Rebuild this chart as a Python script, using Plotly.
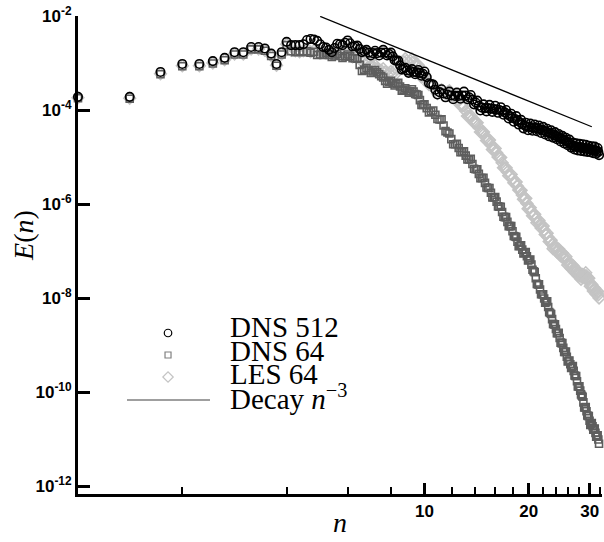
import numpy as np
import plotly.graph_objects as go

# shell wavenumbers n (primary sampling, shared by all series)
n_vals = [1.0, 1.41, 1.73, 2.0, 2.24, 2.45, 2.65, 2.83, 3.0, 3.16, 3.32, 3.46, 3.61, 3.74, 3.87, 4.0,
          4.12, 4.24, 4.36, 4.47, 4.58, 4.69, 4.8, 4.9, 5.0,
          5.2, 5.4, 5.6, 5.8, 6.0, 6.2, 6.4, 6.6, 6.8, 7.0, 7.2, 7.4, 7.6, 7.8, 8.0, 8.2, 8.4, 8.6, 8.8,
          9.0, 9.2, 9.4, 9.6, 9.8, 10.0,
          10.3, 10.6, 10.9, 11.2, 11.5, 11.8, 12.1, 12.4, 12.7, 13.0, 13.3, 13.6, 13.9, 14.2, 14.5, 14.8,
          15.1, 15.4, 15.7, 16.0, 16.3, 16.6, 16.9, 17.2, 17.5, 17.8, 18.1, 18.4, 18.7, 19.0, 19.3, 19.6,
          19.9, 20.2, 20.5, 20.8, 21.1, 21.4, 21.7, 22.0, 22.3, 22.6, 22.9, 23.2, 23.5, 23.8, 24.1, 24.4,
          24.7, 25.0, 25.3, 25.6, 25.9, 26.2, 26.5, 26.8, 27.1, 27.4, 27.7, 28.0, 28.3, 28.6, 28.9, 29.2,
          29.5, 29.8, 30.1, 30.4, 30.7, 31.0, 31.3, 31.6, 31.9]

# in-between shells (dense part of the spectrum)
n_mid = [5.1, 5.3, 5.5, 5.7, 5.9, 6.1, 6.3, 6.5, 6.7, 6.9, 7.1, 7.3, 7.5, 7.7, 7.9, 8.1, 8.3, 8.5, 8.7,
         8.9, 9.1, 9.3, 9.5, 9.7, 9.9,
         10.15, 10.45, 10.75, 11.05, 11.35, 11.65, 11.95, 12.25, 12.55, 12.85, 13.15, 13.45, 13.75, 14.05,
         14.35, 14.65, 14.95, 15.25, 15.55, 15.85, 16.15, 16.45, 16.75, 17.05, 17.35, 17.65, 17.95, 18.25,
         18.55, 18.85, 19.15, 19.45, 19.75, 20.05, 20.35, 20.65, 20.95, 21.25, 21.55, 21.85, 22.15, 22.45,
         22.75, 23.05, 23.35, 23.65, 23.95, 24.25, 24.55, 24.85, 25.15, 25.45, 25.75, 26.05, 26.35, 26.65,
         26.95, 27.25, 27.55, 27.85, 28.15, 28.45, 28.75, 29.05, 29.35, 29.65, 29.95, 30.25, 30.55, 30.85,
         31.15, 31.45, 31.75]

# log10 E(n)
dns512_log10E = [-3.72, -3.72, -3.19, -3.02, -3.02, -2.96, -2.89, -2.77, -2.77, -2.66, -2.66, -2.69, -2.80, -3.02, -2.77, -2.55,
                 -2.62, -2.62, -2.62, -2.60, -2.51, -2.49, -2.50, -2.53, -2.60,
                 -2.67, -2.77, -2.59, -2.62, -2.52, -2.65, -2.63, -2.77, -2.72, -2.84, -2.74, -2.84, -2.72, -2.84, -2.78,
                 -2.94, -2.95, -3.14, -3.10, -3.21, -3.13, -3.24, -3.15, -3.27, -3.18,
                 -3.43, -3.46, -3.67, -3.56, -3.73, -3.61, -3.77, -3.63, -3.76, -3.61, -3.77, -3.68, -3.88, -3.80,
                 -4.01, -3.88, -4.03, -3.89, -4.04, -3.91, -4.06, -3.94, -4.10, -4.00, -4.18, -4.08, -4.25, -4.13,
                 -4.31, -4.21, -4.39, -4.27, -4.43, -4.29, -4.44, -4.31, -4.45, -4.33, -4.49, -4.36, -4.52, -4.40,
                 -4.56, -4.43, -4.59, -4.47, -4.62, -4.51, -4.67, -4.55, -4.71, -4.59, -4.75, -4.63, -4.80, -4.69,
                 -4.84, -4.71, -4.86, -4.72, -4.87, -4.73, -4.88, -4.74, -4.89, -4.76, -4.90, -4.77, -4.92, -4.78,
                 -4.93, -4.81, -4.96]
dns512_log10E_mid = [-2.66, -2.72, -2.68, -2.60, -2.57, -2.58, -2.64, -2.70, -2.75, -2.78, -2.79, -2.79, -2.78,
                     -2.78, -2.81, -2.86, -2.95, -3.05, -3.12, -3.16, -3.17, -3.19, -3.20, -3.21, -3.23,
                     -3.30, -3.45, -3.57, -3.62, -3.65, -3.67, -3.69, -3.70, -3.70, -3.69, -3.69, -3.73, -3.78,
                     -3.84, -3.91, -3.95, -3.96, -3.96, -3.97, -3.98, -3.99, -4.00, -4.02, -4.05, -4.09, -4.13,
                     -4.17, -4.19, -4.22, -4.26, -4.30, -4.33, -4.35, -4.36, -4.37, -4.38, -4.38, -4.39, -4.41,
                     -4.43, -4.44, -4.46, -4.48, -4.50, -4.51, -4.53, -4.55, -4.57, -4.59, -4.61, -4.63, -4.65,
                     -4.67, -4.69, -4.72, -4.75, -4.77, -4.78, -4.79, -4.79, -4.80, -4.80, -4.81, -4.81, -4.82,
                     -4.83, -4.83, -4.84, -4.85, -4.85, -4.86, -4.87, -4.89]

dns64_log10E = [-3.75, -3.76, -3.24, -3.07, -3.07, -3.01, -2.94, -2.82, -2.82, -2.71, -2.71, -2.74, -2.85, -3.06, -2.82, -2.62,
                -2.75, -2.77, -2.75, -2.77, -2.75, -2.78, -2.76, -2.83, -2.82,
                -2.79, -2.87, -2.81, -2.89, -2.82, -2.90, -2.91, -3.17, -3.11, -3.21, -3.15, -3.24, -3.31, -3.44, -3.38,
                -3.48, -3.42, -3.59, -3.54, -3.63, -3.56, -3.66, -3.68, -3.89, -3.88,
                -4.05, -4.01, -4.19, -4.20, -4.45, -4.50, -4.73, -4.72, -4.90, -4.88, -5.05, -5.04, -5.25, -5.26,
                -5.45, -5.44, -5.65, -5.66, -5.86, -5.85, -6.05, -6.06, -6.27, -6.28, -6.47, -6.47, -6.68, -6.70,
                -6.90, -6.88, -7.05, -7.02, -7.20, -7.18, -7.40, -7.45, -7.70, -7.71, -7.92, -7.92, -8.10, -8.07,
                -8.30, -8.34, -8.55, -8.56, -8.75, -8.74, -8.95, -8.96, -9.15, -9.14, -9.35, -9.33, -9.49, -9.45,
                -9.65, -9.66, -9.88, -9.88, -10.05, -10.10, -10.33, -10.32, -10.50, -10.51, -10.70, -10.66, -10.80, -10.78,
                -10.95, -10.92, -11.10]
dns64_log10E_mid = [-2.83, -2.83, -2.84, -2.85, -2.86, -2.86, -2.90, -3.04, -3.14, -3.16, -3.18, -3.20, -3.28,
                    -3.38, -3.41, -3.43, -3.45, -3.50, -3.57, -3.59, -3.60, -3.61, -3.67, -3.79, -3.89,
                    -3.96, -4.03, -4.10, -4.20, -4.33, -4.48, -4.62, -4.73, -4.81, -4.89, -4.97, -5.05, -5.15,
                    -5.26, -5.36, -5.45, -5.55, -5.66, -5.76, -5.86, -5.95, -6.06, -6.17, -6.28, -6.38, -6.47,
                    -6.58, -6.69, -6.80, -6.89, -6.97, -7.04, -7.11, -7.19, -7.29, -7.43, -7.58, -7.71, -7.82,
                    -7.92, -8.01, -8.09, -8.19, -8.32, -8.45, -8.56, -8.66, -8.75, -8.85, -8.96, -9.06, -9.15,
                    -9.25, -9.34, -9.41, -9.47, -9.55, -9.66, -9.77, -9.88, -9.97, -10.08, -10.22, -10.33, -10.41,
                    -10.51, -10.61, -10.68, -10.73, -10.79, -10.87, -10.94, -11.01]

les64_log10E = [-3.74, -3.75, -3.23, -3.06, -3.06, -3.00, -2.93, -2.81, -2.81, -2.70, -2.70, -2.73, -2.84, -3.05, -2.81, -2.60,
                -2.73, -2.74, -2.76, -2.74, -2.72, -2.76, -2.74, -2.77, -2.74,
                -2.71, -2.80, -2.68, -2.77, -2.71, -2.87, -2.82, -2.97, -2.92, -3.08, -3.05, -3.19, -3.12, -3.25, -3.18,
                -3.25, -3.00, -3.03, -2.91, -3.00, -2.91, -3.05, -3.05, -3.30, -3.27,
                -3.46, -3.48, -3.65, -3.57, -3.65, -3.59, -3.73, -3.70, -3.90, -3.91, -4.13, -4.12, -4.27, -4.27,
                -4.47, -4.47, -4.65, -4.64, -4.84, -4.82, -5.00, -5.01, -5.23, -5.23, -5.40, -5.37, -5.55, -5.53,
                -5.70, -5.71, -5.90, -5.88, -6.10, -6.08, -6.25, -6.22, -6.40, -6.35, -6.51, -6.47, -6.65, -6.62,
                -6.80, -6.77, -6.95, -6.89, -7.02, -6.96, -7.10, -7.04, -7.17, -7.12, -7.30, -7.24, -7.37, -7.31,
                -7.45, -7.39, -7.52, -7.46, -7.60, -7.50, -7.57, -7.46, -7.60, -7.58, -7.75, -7.71, -7.85, -7.79,
                -7.92, -7.86, -8.00]
les64_log10E_mid = [-2.75, -2.76, -2.74, -2.72, -2.74, -2.79, -2.85, -2.90, -2.95, -3.00, -3.07, -3.12, -3.16,
                    -3.19, -3.22, -3.22, -3.12, -3.02, -2.97, -2.95, -2.95, -2.98, -3.05, -3.18, -3.29,
                    -3.37, -3.47, -3.57, -3.61, -3.61, -3.62, -3.66, -3.72, -3.80, -3.91, -4.02, -4.13, -4.20,
                    -4.27, -4.37, -4.47, -4.56, -4.65, -4.74, -4.83, -4.91, -5.01, -5.12, -5.23, -5.32, -5.39,
                    -5.46, -5.54, -5.62, -5.71, -5.81, -5.89, -5.99, -6.09, -6.17, -6.24, -6.31, -6.38, -6.43,
                    -6.49, -6.56, -6.64, -6.71, -6.79, -6.86, -6.92, -6.96, -6.99, -7.03, -7.07, -7.11, -7.15,
                    -7.21, -7.27, -7.31, -7.34, -7.38, -7.42, -7.46, -7.49, -7.53, -7.55, -7.54, -7.52, -7.53,
                    -7.59, -7.67, -7.73, -7.78, -7.82, -7.86, -7.89, -7.93]

# reference decay line n^-3 (end points)
decay_n = [5.0, 30.4]
decay_E = [9.8e-3, 4.4e-5]

y_tick_vals = [1e-12, 1e-10, 1e-8, 1e-6, 1e-4, 1e-2]
y_tick_text = ["10<sup>-12</sup>", "10<sup>-10</sup>", "10<sup>-8</sup>", "10<sup>-6</sup>",
               "10<sup>-4</sup>", "10<sup>-2</sup>"]
x_tick_vals = [10, 20, 30]
x_tick_text = ["10", "20", "30"]
x_minor_vals = [2, 4, 6, 8, 12, 14, 16, 18, 22, 24, 26, 28, 32]

legend_labels = ["DNS 512", "DNS 64", "LES 64", "Decay <i>n</i><sup>\u22123</sup>"]

C_BLACK = "#000000"
C_DARK = "#5e5e5e"
C_LIGHT = "#c4c4c4"


def series(logs, logs_mid):
    x = np.concatenate([np.array(n_vals), np.array(n_mid)])
    y = 10 ** np.concatenate([np.array(logs), np.array(logs_mid)])
    return x, y


fig = go.Figure()

x, y = series(les64_log10E, les64_log10E_mid)
fig.add_trace(go.Scatter(x=x, y=y, mode="markers", cliponaxis=False,
                         marker=dict(symbol="diamond-open", size=9, color=C_LIGHT, line=dict(width=1.6, color=C_LIGHT)),
                         showlegend=False))
x, y = series(dns64_log10E, dns64_log10E_mid)
fig.add_trace(go.Scatter(x=x, y=y, mode="markers", cliponaxis=False,
                         marker=dict(symbol="square-open", size=7, color=C_DARK, line=dict(width=1.6, color=C_DARK)),
                         showlegend=False))
x, y = series(dns512_log10E, dns512_log10E_mid)
fig.add_trace(go.Scatter(x=x, y=y, mode="markers", cliponaxis=False,
                         marker=dict(symbol="circle-open", size=8.5, color=C_BLACK, line=dict(width=1.6, color=C_BLACK)),
                         showlegend=False))
fig.add_trace(go.Scatter(x=decay_n, y=decay_E, mode="lines", line=dict(color="black", width=1.3),
                         showlegend=False))

# custom legend on an overlay axis (unit coordinates of the plot area)
fig.add_trace(go.Scatter(x=[0.1718], y=[0.3368], xaxis="x2", yaxis="y2", mode="markers",
                         marker=dict(symbol="circle-open", size=7.5, color=C_BLACK, line=dict(width=1.2)),
                         showlegend=False))
fig.add_trace(go.Scatter(x=[0.1718], y=[0.2908], xaxis="x2", yaxis="y2", mode="markers",
                         marker=dict(symbol="square-open", size=6, color="#808080", line=dict(width=1.2)),
                         showlegend=False))
fig.add_trace(go.Scatter(x=[0.1718], y=[0.2448], xaxis="x2", yaxis="y2", mode="markers",
                         marker=dict(symbol="diamond-open", size=8, color=C_LIGHT, line=dict(width=1.2)),
                         showlegend=False))
fig.add_trace(go.Scatter(x=[0.0935, 0.2519], y=[0.1967, 0.1967], xaxis="x2", yaxis="y2", mode="lines",
                         line=dict(color="#404040", width=1.2), showlegend=False))

text_y = [0.3494, 0.2992, 0.2510, 0.2029]
annotations = []
for lab, ty in zip(legend_labels, text_y):
    annotations.append(dict(text=lab, x=0.2863, y=ty, xref="paper", yref="paper", xanchor="left",
                            yanchor="middle", showarrow=False,
                            font=dict(family="Liberation Serif, Times New Roman, serif", size=29, color="black")))
annotations.append(dict(text="<i>E</i>(<i>n</i>)", x=-0.103, y=0.54, xref="paper", yref="paper",
                        textangle=-90, showarrow=False, xanchor="center", yanchor="middle",
                        font=dict(family="Liberation Serif, Times New Roman, serif", size=28, color="black")))
annotations.append(dict(text="<i>n</i>", x=0.5, y=-0.06, xref="paper", yref="paper",
                        showarrow=False, xanchor="center", yanchor="middle",
                        font=dict(family="Liberation Serif, Times New Roman, serif", size=28, color="black")))

tickfont = dict(family="Liberation Sans, Arial, sans-serif", size=17, color="black", weight="bold")

fig.update_layout(
    width=604, height=542,
    margin=dict(l=78, r=2, t=16, b=48),
    paper_bgcolor="white", plot_bgcolor="white",
    showlegend=False,
    annotations=annotations,
    xaxis=dict(type="log", range=[0, 1.5123], showgrid=False, zeroline=False,
               showline=True, linecolor="black", linewidth=3,
               tickmode="array", tickvals=x_tick_vals, ticktext=x_tick_text,
               ticks="inside", ticklen=11, tickwidth=3, tickcolor="black", tickfont=tickfont,
               minor=dict(tickmode="array", tickvals=x_minor_vals, ticks="inside", ticklen=7,
                          tickwidth=1.5, tickcolor="black", showgrid=False)),
    yaxis=dict(type="log", range=[-12.17, -2], showgrid=False, zeroline=False,
               showline=True, linecolor="black", linewidth=3,
               tickmode="array", tickvals=y_tick_vals, ticktext=y_tick_text,
               ticks="inside", ticklen=12, tickwidth=3, tickcolor="black", tickfont=tickfont),
    xaxis2=dict(overlaying="x", range=[0, 1], visible=False, domain=[0, 1]),
    yaxis2=dict(overlaying="y", range=[0, 1], visible=False, domain=[0, 1]),
)

fig.write_html("out.html")
